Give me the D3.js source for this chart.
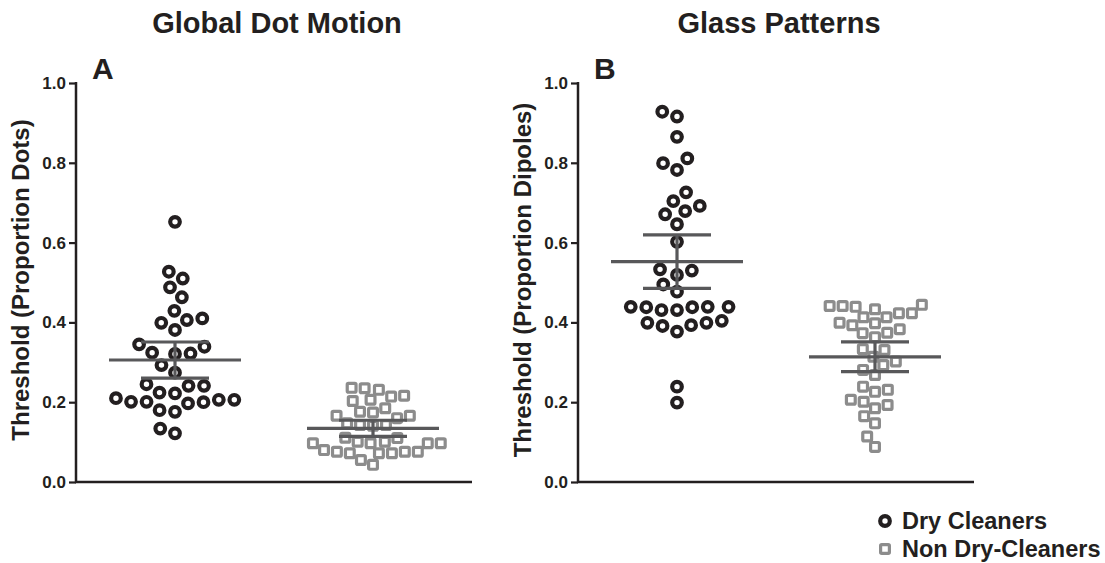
<!DOCTYPE html>
<html><head><meta charset="utf-8">
<script src="https://cdn.jsdelivr.net/npm/d3@7"></script>
<style>
body{margin:0;background:#fff;}
svg text{font-family:"Liberation Sans",Arial,Helvetica,sans-serif;font-weight:bold;fill:#231f20;}
</style></head>
<body><svg id="chart" width="1105" height="563"></svg>
<script>
// ---- data ----
const categories = ["Dry Cleaners", "Non Dry-Cleaners"];
const panelTitles = ["Global Dot Motion", "Glass Patterns"];
const panelLetters = ["A", "B"];
const yLabels = ["Threshold (Proportion Dots)", "Threshold (Proportion Dipoles)"];
const yTicks = [0.0, 0.2, 0.4, 0.6, 0.8, 1.0];

const dotMotionDry = [0.652,0.527,0.510,0.488,0.463,0.429,0.410,0.399,0.406,0.381,
  0.345,0.339,0.324,0.321,0.322,0.293,0.274,0.245,0.241,0.241,
  0.222,0.224,0.206,0.201,0.200,0.197,0.201,0.206,0.210,0.180,
  0.176,0.122,0.134];
const dotMotionNon = [0.236,0.231,0.235,0.214,0.203,0.206,0.216,0.185,0.174,0.176,
  0.166,0.166,0.160,0.147,0.143,0.143,0.141,0.110,0.111,0.097,
  0.097,0.101,0.097,0.101,0.097,0.076,0.072,0.072,0.080,0.076,
  0.076,0.072,0.043,0.055];
const glassDry = [0.916,0.928,0.865,0.811,0.782,0.799,0.726,0.704,0.679,0.692,
  0.671,0.646,0.602,0.530,0.533,0.519,0.495,0.477,0.438,0.438,
  0.439,0.431,0.431,0.439,0.439,0.404,0.399,0.391,0.377,0.393,
  0.399,0.239,0.199];
const glassNon = [0.441,0.441,0.423,0.423,0.433,0.439,0.444,0.399,0.393,0.383,
  0.398,0.413,0.413,0.373,0.374,0.363,0.331,0.333,0.314,0.302,
  0.281,0.293,0.268,0.239,0.231,0.226,0.206,0.193,0.201,0.185,
  0.165,0.147,0.114,0.088];

const panelData = [[dotMotionDry, dotMotionNon], [glassDry, glassNon]];

// ---- layout / style ----
const svg = d3.select("#chart");
const axisX = [76, 578];
const axisRight = [472, 974];
const yTop = 83, yBottom = 482;
const ink = "#231f20";
const colors = ["#231f20", "#8c8c8c"];
const statColor = "#58585a";

const y = d3.scaleLinear().domain([0, 1]).range([yBottom, yTop]);

function swarm(values, cx, D) {
  const idx = values.map((v, i) => i).sort((a, b) => values[a] - values[b]);
  const placed = [];
  const out = new Array(values.length);
  idx.forEach(i => {
    const py = y(values[i]);
    const cands = [0];
    placed.forEach(p => {
      const dy = Math.abs(py - p.y);
      if (dy < D) {
        const dx = Math.sqrt(D * D - dy * dy);
        cands.push(p.x + dx, p.x - dx);
      }
    });
    const valid = cands.filter(c => placed.every(p => (c - p.x) ** 2 + (py - p.y) ** 2 >= D * D - 0.01));
    valid.sort((a, b) => Math.abs(a) - Math.abs(b) || a - b);
    const xo = valid[0];
    placed.push({x: xo, y: py});
    out[i] = {x: cx + xo, y: py, v: values[i]};
  });
  return out;
}

function stats(vals) {
  const n = vals.length;
  const m = d3.mean(vals);
  const sd = d3.deviation(vals);
  const t = 2.036; // ~t(0.975, df≈32)
  const ci = t * sd / Math.sqrt(n);
  return {m, lo: m - ci, hi: m + ci};
}

panelData.forEach((groups, pi) => {
  const x0 = axisX[pi], x1 = axisRight[pi];
  const x = d3.scalePoint().domain(categories).range([x0, x1]).padding(0.5);
  const g = svg.append("g");

  // y axis
  const yAxis = d3.axisLeft(y).tickValues(yTicks).tickFormat(d3.format(".1f")).tickSize(7).tickPadding(3);
  const ga = g.append("g").attr("transform", `translate(${x0},0)`).call(yAxis);
  ga.select(".domain").attr("stroke", ink).attr("stroke-width", 2.5).attr("d", `M0,${yTop - 1}V${yBottom}`);
  ga.selectAll(".tick line").attr("stroke", ink).attr("stroke-width", 2.2);
  ga.selectAll(".tick text").attr("fill", ink).style("font-size", "17px").style("font-weight", "bold")
    .style("font-family", '"Liberation Sans",Arial,sans-serif');
  // x axis line
  g.append("line").attr("x1", x0 - 1).attr("x2", x1).attr("y1", yBottom).attr("y2", yBottom)
    .attr("stroke", ink).attr("stroke-width", 2.5);

  // title, letter, y label
  g.append("text").attr("x", (x0 + x1) / 2 + 3).attr("y", 33).attr("text-anchor", "middle")
    .style("font-size", "29px").text(panelTitles[pi]);
  g.append("text").attr("x", x0 + 16).attr("y", 79).style("font-size", "30px").text(panelLetters[pi]);
  g.append("text").attr("transform", `translate(${x0 - 47},${280}) rotate(-90)`).attr("text-anchor", "middle")
    .style("font-size", "24px").text(yLabels[pi]);

  groups.forEach((vals, gi) => {
    const cx = x(categories[gi]);
    const pts = swarm(vals, cx, gi === 0 ? 15.5 : 13);
    if (gi === 0) {
      g.append("g").selectAll("circle").data(pts).join("circle")
        .attr("cx", d => d.x).attr("cy", d => d.y).attr("r", 4.8)
        .attr("fill", "none").attr("stroke", colors[0]).attr("stroke-width", 4.2);
    } else {
      g.append("g").selectAll("rect").data(pts).join("rect")
        .attr("x", d => d.x - 4.4).attr("y", d => d.y - 4.4).attr("width", 8.8).attr("height", 8.8)
        .attr("rx", 1.2).attr("fill", "none").attr("stroke", colors[1]).attr("stroke-width", 3.2);
    }
  });

  // mean & 95% CI
  groups.forEach((vals, gi) => {
    const cx = x(categories[gi]);
    const s = stats(vals);
    const sg = g.append("g").attr("stroke", statColor).attr("stroke-width", 3.2);
    sg.append("line").attr("x1", cx - 66).attr("x2", cx + 66).attr("y1", y(s.m)).attr("y2", y(s.m));
    sg.append("line").attr("x1", cx - 34).attr("x2", cx + 34).attr("y1", y(s.hi)).attr("y2", y(s.hi));
    sg.append("line").attr("x1", cx - 34).attr("x2", cx + 34).attr("y1", y(s.lo)).attr("y2", y(s.lo));
    sg.append("line").attr("x1", cx).attr("x2", cx).attr("y1", y(s.hi)).attr("y2", y(s.lo));
  });
});

// legend
const lg = svg.append("g");
lg.append("circle").attr("cx", 885).attr("cy", 521).attr("r", 4.8).attr("fill", "none")
  .attr("stroke", colors[0]).attr("stroke-width", 4.2);
lg.append("rect").attr("x", 880.6).attr("y", 544.6).attr("width", 8.8).attr("height", 8.8).attr("rx", 1.2)
  .attr("fill", "none").attr("stroke", colors[1]).attr("stroke-width", 3.2);
lg.append("text").attr("x", 902).attr("y", 529).style("font-size", "23.5px").text(categories[0]);
lg.append("text").attr("x", 902).attr("y", 557).style("font-size", "23.5px").text(categories[1]);
</script></body></html>
